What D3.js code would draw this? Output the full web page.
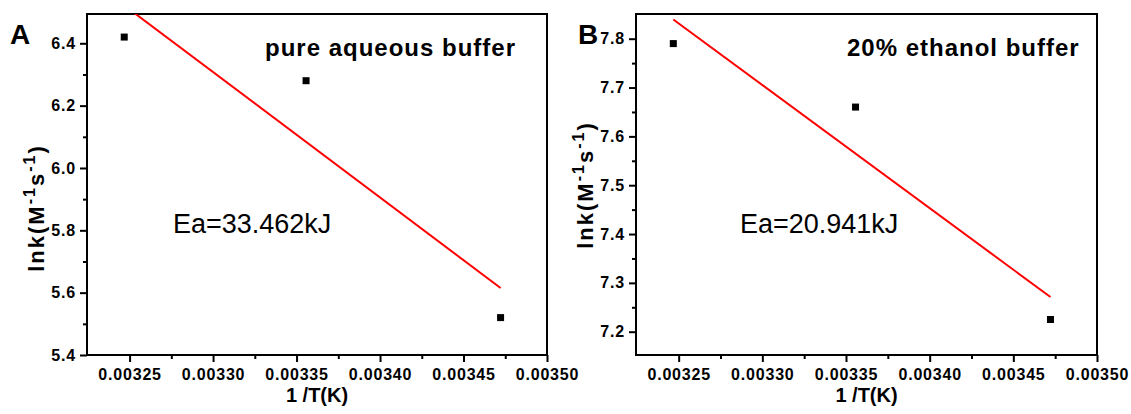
<!DOCTYPE html>
<html>
<head>
<meta charset="utf-8">
<script src="https://cdn.jsdelivr.net/npm/d3@7"></script>
<style>
    body { margin: 0; background: #fff; }
    svg { display: block; font-family: "Liberation Sans", Arial, sans-serif; }
</style>
</head>
<body>
<div id="content"></div>
<script>
// 1/T for 308, 298 and 288 K
var invT = [0.0032468, 0.0033557, 0.0034722];
var lnkAqueous = [6.42, 6.28, 5.52];
var lnkEthanol = [7.79, 7.66, 7.225];

var xTicks = [0.00325, 0.00330, 0.00335, 0.00340, 0.00345, 0.00350];
var xMinor = [0.003275, 0.003325, 0.003375, 0.003425, 0.003475];
var yTicksA = [5.4, 5.6, 5.8, 6.0, 6.2, 6.4];
var yMinorA = [5.5, 5.7, 5.9, 6.1, 6.3];
var yTicksB = [7.2, 7.3, 7.4, 7.5, 7.6, 7.7, 7.8];
var yMinorB = [7.25, 7.35, 7.45, 7.55, 7.65, 7.75];

var panels = [
    {letter: "A", title: "pure aqueous buffer", ea: "Ea=33.462kJ", y: lnkAqueous,
     yTicks: yTicksA, yMinor: yMinorA, yDomain: [5.4, 6.494],
     left: 87, right: 547, letterX: 10, titleX: 265, eaX: 173, ylabX: 44, ylabY: 208},
    {letter: "B", title: "20% ethanol buffer", ea: "Ea=20.941kJ", y: lnkEthanol,
     yTicks: yTicksB, yMinor: yMinorB, yDomain: [7.1523, 7.8506],
     left: 636, right: 1097, letterX: 578, titleX: 847, eaX: 740, ylabX: 593, ylabY: 185}
];

var plotTop = 14, plotBottom = 355;

var svg = d3.select("div#content").append("svg")
    .attr("width", 1131)
    .attr("height", 414);

function fit(xs, ys) {
    var mx = d3.mean(xs), my = d3.mean(ys);
    var sxy = d3.sum(xs, function(d, i) { return (d - mx) * (ys[i] - my); });
    var sxx = d3.sum(xs, function(d) { return (d - mx) * (d - mx); });
    var b = sxy / sxx;
    return function(x) { return my + b * (x - mx); };
}

function styleAxis(sel) {
    sel.select(".domain").remove();
    sel.selectAll(".tick line").attr("stroke", "#000").attr("stroke-width", 2);
    sel.selectAll(".tick text")
        .attr("fill", "#000")
        .style("font-family", "'Liberation Sans', Arial, sans-serif")
        .style("font-size", "16px")
        .style("font-weight", "bold")
        .style("letter-spacing", "0.8px");
}

panels.forEach(function(p, idx) {
    var x = d3.scaleLinear().domain([0.0032245, 0.00350]).range([p.left, p.right]);
    var y = d3.scaleLinear().domain(p.yDomain).range([plotBottom, plotTop]);

    var g = svg.append("g");

    g.append("clipPath").attr("id", "clip" + idx)
        .append("rect")
        .attr("x", p.left).attr("y", plotTop)
        .attr("width", p.right - p.left).attr("height", plotBottom - plotTop);

    // x axis
    g.append("g")
        .attr("transform", "translate(0," + plotBottom + ")")
        .call(d3.axisBottom(x).tickValues(xTicks).tickSize(7).tickSizeOuter(0).tickPadding(7)
            .tickFormat(d3.format(".5f")))
        .call(styleAxis);
    g.append("g")
        .attr("transform", "translate(0," + plotBottom + ")")
        .call(d3.axisBottom(x).tickValues(xMinor).tickSize(4).tickSizeOuter(0).tickFormat(""))
        .call(styleAxis);

    // y axis
    g.append("g")
        .attr("transform", "translate(" + p.left + ",0)")
        .call(d3.axisLeft(y).tickValues(p.yTicks).tickSize(7).tickSizeOuter(0).tickPadding(4)
            .tickFormat(d3.format(".1f")))
        .call(styleAxis);
    g.append("g")
        .attr("transform", "translate(" + p.left + ",0)")
        .call(d3.axisLeft(y).tickValues(p.yMinor).tickSize(4).tickSizeOuter(0).tickFormat(""))
        .call(styleAxis);

    // frame
    g.append("rect")
        .attr("x", p.left).attr("y", plotTop)
        .attr("width", p.right - p.left).attr("height", plotBottom - plotTop)
        .attr("fill", "none").attr("stroke", "#000").attr("stroke-width", 2);

    // fit line
    var f = fit(invT, p.y);
    var ends = [invT[0], invT[invT.length - 1]];
    g.append("line")
        .attr("clip-path", "url(#clip" + idx + ")")
        .attr("x1", x(ends[0])).attr("y1", y(f(ends[0])))
        .attr("x2", x(ends[1])).attr("y2", y(f(ends[1])))
        .attr("stroke", "#ff0000").attr("stroke-width", 2);

    // points
    g.selectAll(".pt")
        .data(invT)
        .enter().append("rect")
        .attr("class", "pt")
        .attr("x", function(d) { return x(d) - 3.5; })
        .attr("y", function(d, i) { return y(p.y[i]) - 3.5; })
        .attr("width", 7).attr("height", 7)
        .attr("fill", "#000");

    // texts
    g.append("text")
        .attr("x", p.letterX).attr("y", 44)
        .style("font-size", "28px").style("font-weight", "bold")
        .text(p.letter);

    g.append("text")
        .attr("x", p.titleX).attr("y", 56)
        .style("font-size", "24px").style("font-weight", "bold").style("letter-spacing", "1px")
        .text(p.title);

    g.append("text")
        .attr("x", p.eaX).attr("y", 233)
        .style("font-size", "27px")
        .text(p.ea);

    g.append("text")
        .attr("x", (p.left + p.right) / 2).attr("y", 402)
        .attr("text-anchor", "middle")
        .style("font-size", "20px").style("font-weight", "bold")
        .text("1 /T(K)");

    var yl = g.append("text")
        .attr("transform", "translate(" + p.ylabX + "," + p.ylabY + ") rotate(-90)")
        .attr("text-anchor", "middle")
        .style("font-size", "22px").style("font-weight", "bold").style("letter-spacing", "2px");
    yl.append("tspan").text("lnk(M");
    yl.append("tspan").attr("dy", -9).style("font-size", "16px").text("-1");
    yl.append("tspan").attr("dy", 9).text("s");
    yl.append("tspan").attr("dy", -9).style("font-size", "16px").text("-1");
    yl.append("tspan").attr("dy", 9).text(")");
});
</script>
</body>
</html>
